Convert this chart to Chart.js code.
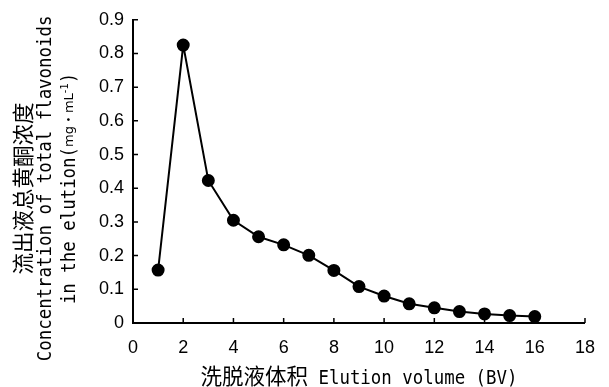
<!DOCTYPE html>
<html>
<head>
<meta charset="utf-8">
<script src="https://cdn.jsdelivr.net/npm/chart.js@4"></script>
<style>
  html, body { margin: 0; padding: 0; background: #fff; }
  #wrap { width: 609px; height: 387px; }
</style>
</head>
<body>
<div id="wrap"><canvas id="elutionChart" width="609" height="387"></canvas></div>
<script>
// Elution volume (BV) and flavonoid concentration (mg/mL)
const elutionVolume = [1, 2, 3, 4, 5, 6, 7, 8, 9, 10, 11, 12, 13, 14, 15, 16];
const concentration = [0.157, 0.825, 0.423, 0.305, 0.256, 0.232, 0.201, 0.156, 0.108, 0.080, 0.057, 0.045, 0.034, 0.027, 0.022, 0.019];

const xTickValues = [0, 2, 4, 6, 8, 10, 12, 14, 16, 18];
const yTickValues = [0, 0.1, 0.2, 0.3, 0.4, 0.5, 0.6, 0.7, 0.8, 0.9];

// axis titles, split in runs so the CJK part and the unit can get their own size
const cjkFont = "21.5px 'Noto Sans CJK SC', sans-serif";
const latinFont = "20px 'DejaVu Sans Mono', 'Noto Sans CJK SC', monospace";
const latinSX = 0.87; // latin glyphs in the original are narrow (half width of CJK)
const unitFont = "13px 'DejaVu Sans', 'Noto Sans CJK SC', sans-serif";
const supFont = "10px 'DejaVu Sans', sans-serif";

const yTitleLines = [
  [{ text: '流出液总黄酮浓度', font: cjkFont }],
  [{ text: 'Concentration of total flavonoids', font: latinFont, sx: latinSX }],
  [
    { text: 'in the elution(', font: latinFont, sx: latinSX },
    { text: 'mg・mL', font: unitFont },
    { text: '-1', font: supFont, rise: 5 },
    { text: ')', font: latinFont, sx: latinSX }
  ]
];
const xTitleRuns = [
  { text: '洗脱液体积', font: cjkFont },
  { text: ' Elution volume (BV)', font: latinFont, sx: latinSX }
];

const tickFont = "'Liberation Sans', Arial, sans-serif";

function runWidth(ctx, r) {
  ctx.font = r.font;
  return ctx.measureText(r.text).width * (r.sx || 1);
}

function drawRuns(ctx, runs, cx, cy) {
  const total = runs.reduce((s, r) => s + runWidth(ctx, r), 0);
  let x = cx - total / 2;
  runs.forEach(r => {
    const w = runWidth(ctx, r);
    ctx.save();
    ctx.translate(x, cy - (r.rise || 0));
    ctx.scale(r.sx || 1, 1);
    ctx.fillText(r.text, 0, 0);
    ctx.restore();
    x += w;
  });
}

// ticks pointing into the plot + axis titles, like the original figure
const figureDecor = {
  id: 'figureDecor',
  afterDraw: (chart) => {
    const { ctx, chartArea, scales: { x, y } } = chart;
    ctx.save();
    ctx.strokeStyle = '#000';
    ctx.lineWidth = 1.5;
    ctx.beginPath();
    x.ticks.forEach((t, i) => {
      const px = x.getPixelForTick(i);
      ctx.moveTo(px, chartArea.bottom);
      ctx.lineTo(px, chartArea.bottom - 5);
    });
    y.ticks.forEach((t, i) => {
      const py = y.getPixelForTick(i);
      ctx.moveTo(chartArea.left, py);
      ctx.lineTo(chartArea.left + 5, py);
    });
    ctx.stroke();

    ctx.fillStyle = '#000';
    // x title
    ctx.textBaseline = 'alphabetic';
    drawRuns(ctx, xTitleRuns, (chartArea.left + chartArea.right) / 2, chartArea.bottom + 61);

    // y title, three rotated lines
    ctx.textBaseline = 'middle';
    const midY = (chartArea.top + chartArea.bottom) / 2 + 17;
    const lineX = [chartArea.left - 110, chartArea.left - 87, chartArea.left - 63];
    yTitleLines.forEach((runs, i) => {
      ctx.save();
      ctx.translate(lineX[i], midY);
      ctx.rotate(-Math.PI / 2);
      drawRuns(ctx, runs, 0, 0);
      ctx.restore();
    });
    ctx.restore();
  }
};

const ctx = document.getElementById('elutionChart').getContext('2d');
new Chart(ctx, {
  type: 'line',
  data: {
    datasets: [{
      data: elutionVolume.map((v, i) => ({ x: v, y: concentration[i] })),
      borderColor: '#000',
      backgroundColor: '#000',
      borderWidth: 2,
      pointRadius: 5.5,
      pointHoverRadius: 5.5,
      tension: 0
    }]
  },
  options: {
    responsive: false,
    animation: false,
    layout: { padding: { top: 15, right: 22, left: 0, bottom: 0 } },
    plugins: { legend: { display: false }, tooltip: { enabled: false } },
    scales: {
      x: {
        type: 'linear',
        min: 0,
        max: 18,
        afterBuildTicks: (scale) => { scale.ticks = xTickValues.map(v => ({ value: v })); },
        afterFit: (scale) => { scale.height = 64; },
        grid: { display: false, drawTicks: false },
        border: { display: true, color: '#000', width: 2 },
        ticks: { color: '#000', font: { family: tickFont, size: 18 }, padding: 14, maxRotation: 0 }
      },
      y: {
        type: 'linear',
        min: 0,
        max: 0.9,
        afterBuildTicks: (scale) => { scale.ticks = yTickValues.map(v => ({ value: v })); },
        afterFit: (scale) => { scale.width = 133; },
        grid: { display: false, drawTicks: false },
        border: { display: true, color: '#000', width: 2 },
        ticks: {
          color: '#000',
          font: { family: tickFont, size: 18 },
          padding: 9,
          callback: (v) => v === 0 ? '0' : v.toFixed(1)
        }
      }
    }
  },
  plugins: [figureDecor]
});
</script>
</body>
</html>
